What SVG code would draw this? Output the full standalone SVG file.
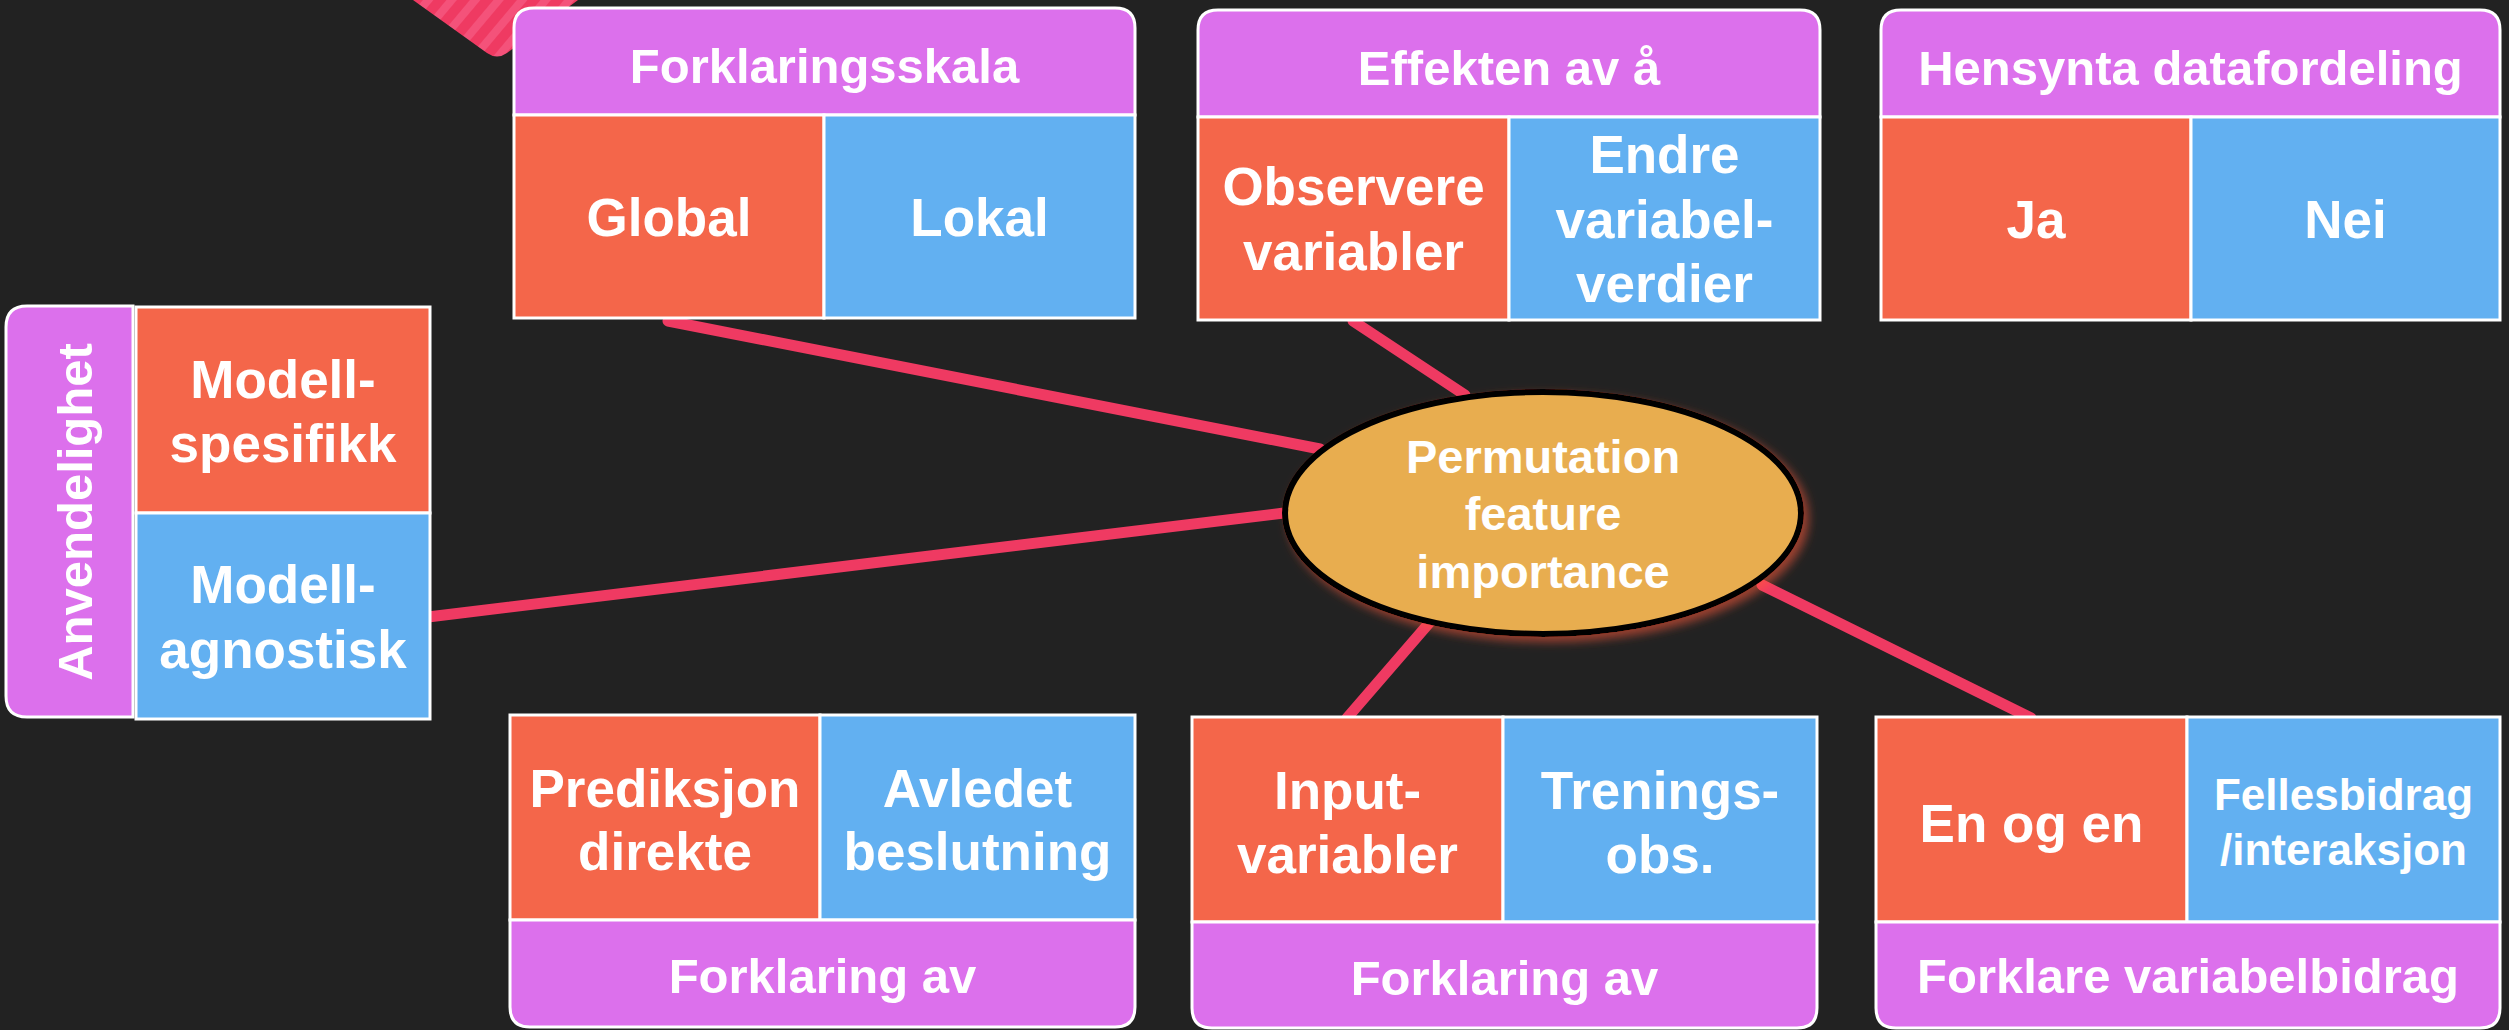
<svg xmlns="http://www.w3.org/2000/svg" width="2509" height="1030" viewBox="0 0 2509 1030">
<style>
.hd{fill:#DC70EC;stroke:#FFFFFF;stroke-width:3}
.or{fill:#F4664A;stroke:#FFFFFF;stroke-width:3}
.bl{fill:#62B0F1;stroke:#FFFFFF;stroke-width:3}
.t{font-family:"Liberation Sans",Arial,sans-serif;font-weight:bold;fill:#FFFFFF;text-anchor:middle}
.h{font-size:49px}
.c{font-size:53px}
.s{font-size:44px}
.e{font-size:47px}
.cn{stroke:#EF3A62;stroke-width:11;stroke-linecap:round;fill:none}
</style>
<defs>
<pattern id="stripes" width="18" height="18" patternUnits="userSpaceOnUse" patternTransform="rotate(40)">
<rect width="18" height="18" fill="#EF3A62"/>
<rect width="8" height="18" fill="#F4527A"/>
</pattern>
<filter id="glow" x="-20%" y="-20%" width="140%" height="140%">
<feDropShadow dx="5" dy="5" stdDeviation="5" flood-color="#FF5A3A" flood-opacity="0.55"/>
</filter>
</defs>
<rect x="0" y="0" width="2509" height="1030" fill="#222222"/>
<path d="M413,0 L487,53 Q497,60 507,53 L578,0 Z" fill="url(#stripes)"/>

<g id="connectors">
<line class="cn" x1="668" y1="321" x2="1320" y2="449"/>
<line class="cn" x1="1353" y1="321" x2="1465" y2="395"/>
<line class="cn" x1="428" y1="617" x2="1292" y2="512"/>
<line class="cn" x1="1347" y1="718" x2="1430" y2="622"/>
<line class="cn" x1="2031" y1="718" x2="1762" y2="585"/>
</g>

<g id="forklaringsskala">
<path class="hd" d="M514,115 V28 Q514,8 534,8 H1115 Q1135,8 1135,28 V115 Z"/>
<rect class="or" x="514" y="115" width="310" height="203"/>
<rect class="bl" x="824" y="115" width="311" height="203"/>
<text class="t h" x="824.5" y="83">Forklaringsskala</text>
<text class="t c" x="669" y="236">Global</text>
<text class="t c" x="979.5" y="236">Lokal</text>
</g>

<g id="effekten">
<path class="hd" d="M1198,117 V30 Q1198,10 1218,10 H1800 Q1820,10 1820,30 V117 Z"/>
<rect class="or" x="1198" y="117" width="311" height="203"/>
<rect class="bl" x="1509" y="117" width="311" height="203"/>
<text class="t h" x="1509" y="85">Effekten av å</text>
<text class="t c" x="1353.5" y="205">Observere</text>
<text class="t c" x="1353.5" y="270">variabler</text>
<text class="t c" x="1664.5" y="173">Endre</text>
<text class="t c" x="1664.5" y="238">variabel-</text>
<text class="t c" x="1664.5" y="302">verdier</text>
</g>

<g id="hensynta">
<path class="hd" d="M1881,117 V30 Q1881,10 1901,10 H2480 Q2500,10 2500,30 V117 Z"/>
<rect class="or" x="1881" y="117" width="310" height="203"/>
<rect class="bl" x="2191" y="117" width="309" height="203"/>
<text class="t h" x="2190.5" y="85">Hensynta datafordeling</text>
<text class="t c" x="2036" y="238">Ja</text>
<text class="t c" x="2345.5" y="238">Nei</text>
</g>

<g id="anvendelighet">
<path class="hd" d="M133,306 V717 H27 Q6,717 6,696 V327 Q6,306 27,306 Z"/>
<rect class="or" x="136" y="307" width="294" height="206"/>
<rect class="bl" x="136" y="513" width="294" height="206"/>
<text class="t h" transform="translate(92,512) rotate(-90)" x="0" y="0">Anvendelighet</text>
<text class="t c" x="283" y="398">Modell-</text>
<text class="t c" x="283" y="462">spesifikk</text>
<text class="t c" x="283" y="603">Modell-</text>
<text class="t c" x="283" y="668">agnostisk</text>
</g>

<g id="forklaring-av-1">
<rect class="or" x="510" y="715" width="310" height="205"/>
<rect class="bl" x="820" y="715" width="315" height="205"/>
<path class="hd" d="M510,920 H1135 V1007 Q1135,1027 1115,1027 H530 Q510,1027 510,1007 Z"/>
<text class="t c" x="665" y="807">Prediksjon</text>
<text class="t c" x="665" y="870">direkte</text>
<text class="t c" x="977.5" y="807">Avledet</text>
<text class="t c" x="977.5" y="870">beslutning</text>
<text class="t h" x="822.5" y="993">Forklaring av</text>
</g>

<g id="forklaring-av-2">
<rect class="or" x="1192" y="717" width="311" height="205"/>
<rect class="bl" x="1503" y="717" width="314" height="205"/>
<path class="hd" d="M1192,922 H1817 V1008 Q1817,1028 1797,1028 H1212 Q1192,1028 1192,1008 Z"/>
<text class="t c" x="1347.5" y="809">Input-</text>
<text class="t c" x="1347.5" y="873">variabler</text>
<text class="t c" x="1660" y="809">Trenings-</text>
<text class="t c" x="1660" y="873">obs.</text>
<text class="t h" x="1504.5" y="995">Forklaring av</text>
</g>

<g id="forklare-variabelbidrag">
<rect class="or" x="1876" y="717" width="311" height="205"/>
<rect class="bl" x="2187" y="717" width="313" height="205"/>
<path class="hd" d="M1876,922 H2500 V1008 Q2500,1028 2480,1028 H1896 Q1876,1028 1876,1008 Z"/>
<text class="t c" x="2031.5" y="842">En og en</text>
<text class="t s" x="2343.5" y="810">Fellesbidrag</text>
<text class="t s" x="2343.5" y="865">/interaksjon</text>
<text class="t h" x="2188" y="993">Forklare variabelbidrag</text>
</g>

<g id="permutation-feature-importance">
<ellipse cx="1543" cy="513" rx="258" ry="121" fill="#E8AD4F" stroke="#000000" stroke-width="6" filter="url(#glow)"/>
<text class="t e" x="1543" y="473">Permutation</text>
<text class="t e" x="1543" y="530">feature</text>
<text class="t e" x="1543" y="588">importance</text>
</g>
</svg>
